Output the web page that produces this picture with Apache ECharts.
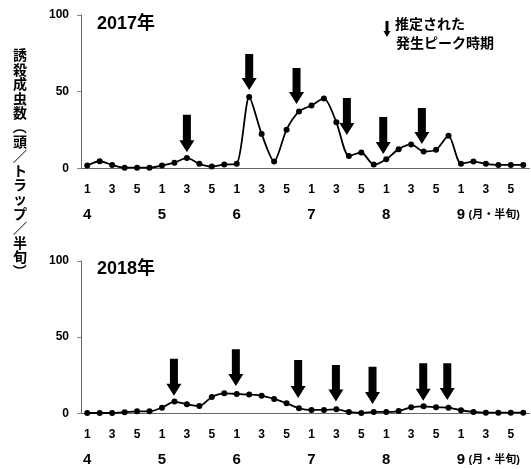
<!DOCTYPE html>
<html><head><meta charset="utf-8">
<script src="https://cdn.jsdelivr.net/npm/echarts@6/dist/echarts.min.js"></script>
<style>html,body{margin:0;padding:0;background:#fff}#c{width:531px;height:469px}</style>
</head><body><div id="c"></div>
<script>
const months = ['4','5','6','7','8','9'];
const halves = ['1','2','3','4','5','6'];
const yTicks = [0, 50, 100];
const data2017 = [1.8,4.6,2.2,0.4,0.4,0.4, 1.8,3.7,6.8,2.9,1.1,2.4, 2.9,46.5,22.4,4.4,25.2,37.1, 41,45.6,30,8.1,10.3,2.4, 5.9,12.5,15.6,11,12.1,21.3, 2.9,4.4,2.9,2.2,2.2,2.2];
const data2018 = [0.2,0.2,0.2,0.7,1.3,1.3, 3.7,7.7,5.9,4.8,10.7,13.1, 12.7,12.3,11.6,9.4,6.6,3.3, 2.2,2.2,2.6,0.9,0.2,0.9, 0.9,1.5,3.9,4.6,3.9,3.7, 2.0,0.9,0.4,0.4,0.4,0.4];
// estimated peak arrows: [category index (fractional), top value, tip value]
const arrows2017 = [[8,35,10.5],[13,74.6,51.1],[16.8,65.4,41.9],[20.84,45.9,21.7],[23.76,33.5,9.3],[26.86,39.3,15.9]];
const arrows2018 = [[6.96,35.8,11.6],[11.93,42.1,17.9],[16.93,35.0,10.0],[19.96,31.7,7.7],[22.9,30.6,6.1],[26.97,32.8,8.3],[28.9,32.8,8.7]];
const titles = ['2017年','2018年'];
const yTitle = '誘殺成虫数（頭／トラップ／半旬）';
const legendText = ['推定された','発生ピーク時期'];
const monthSuffix = '(月・半旬)';

const cats = [];
months.forEach(m => halves.forEach(h => cats.push(m + '-' + h)));

const FONT = 'Liberation Sans, Noto Sans CJK JP, sans-serif';
const JP = 'Noto Sans CJK JP, sans-serif';
const grids = [
  {left: 81, right: 1.5, top: 15, height: 153.3},
  {left: 81, right: 1.5, top: 261, height: 152.3}
];

const xAxes = [], yAxes = [], series = [];
[0,1].forEach(g => {
  xAxes.push({
    type: 'category', gridIndex: g, data: cats, boundaryGap: true,
    axisLine: {lineStyle: {color: '#666', width: 1}},
    axisTick: {interval: 0, length: 5, lineStyle: {color: '#888'}},
    axisLabel: {interval: 0, margin: 15, fontSize: 12, fontWeight: 'bold', color: '#000', fontFamily: FONT,
      formatter: v => { const h = v.split('-')[1]; return (+h % 2 === 1) ? h : ''; }}
  });
  xAxes.push({
    type: 'category', gridIndex: g, data: cats, boundaryGap: true, position: 'bottom',
    axisLine: {show: false}, axisTick: {show: false},
    axisLabel: {interval: 0, margin: 39, color: '#000',
      formatter: v => { const [m, h] = v.split('-'); if (h !== '1') return '';
        return m === months[months.length-1] ? '{sp|}{m|' + m + '}{s|' + monthSuffix + '}' : '{m|' + m + '}'; },
      rich: {
        m: {fontSize: 15, fontWeight: 'bold', fontFamily: FONT, color: '#000'},
        s: {fontSize: 11, fontWeight: 'bold', fontFamily: FONT, color: '#000', width: 58},
        sp: {width: 58}
      }}
  });
  yAxes.push({
    type: 'value', gridIndex: g, min: yTicks[0], max: yTicks[yTicks.length-1], interval: 50,
    splitLine: {show: false},
    axisLine: {show: true, lineStyle: {color: '#666'}},
    axisTick: {show: true, length: 4, lineStyle: {color: '#888'}},
    axisLabel: {margin: 12, fontSize: 12, fontWeight: 'bold', color: '#000', fontFamily: FONT}
  });
});

function arrowRender(params, api) {
  const i = api.value(0);
  const base = Math.round(i);
  const band = api.size([1, 0])[0];
  const pTop = api.coord([base, api.value(1)]);
  const pTip = api.coord([base, api.value(2)]);
  const x = pTop[0] + (i - base) * band;
  const yt = pTop[1], yp = pTip[1];
  const hh = 12, sw = 4, hw = 7.5;
  return {type: 'polygon', shape: {points: [
    [x - sw, yt], [x + sw, yt], [x + sw, yp - hh], [x + hw, yp - hh], [x, yp],
    [x - hw, yp - hh], [x - sw, yp - hh]]}, style: {fill: '#000'}};
}

[[data2017, arrows2017], [data2018, arrows2018]].forEach(([d, a], g) => {
  series.push({type: 'line', xAxisIndex: g*2, yAxisIndex: g, data: d, smooth: 0.25,
    symbol: 'circle', symbolSize: 6, itemStyle: {color: '#000'},
    lineStyle: {color: '#000', width: 1.8}, silent: true});
  series.push({type: 'custom', xAxisIndex: g*2, yAxisIndex: g, data: a, renderItem: arrowRender, silent: true});
});

// vertical y-axis title, one glyph per line; brackets turned for vertical writing
const titleChars = yTitle.split('').map((ch, k) => {
  const rot = (ch === '（' || ch === '）') ? -Math.PI / 2 : 0;
  return {type: 'text', x: 20, y: 55 + k * 14.4, rotation: rot,
    style: {text: ch, font: 'bold 14px ' + JP, fill: '#000', align: 'center', verticalAlign: 'middle'}};
});

const chart = echarts.init(document.getElementById('c'), null, {renderer: 'canvas'});
chart.setOption({
  animation: false,
  grid: grids, xAxis: xAxes, yAxis: yAxes, series: series,
  graphic: [
    {type: 'text', left: 97, top: 15, style: {text: titles[0], font: 'bold 18px ' + FONT, fill: '#000'}},
    {type: 'text', left: 97, top: 260, style: {text: titles[1], font: 'bold 18px ' + FONT, fill: '#000'}},
    {type: 'group', children: titleChars},
    {type: 'polygon', shape: {points: [[385.5,21],[388.5,21],[388.5,31],[390.5,31],[387,37],[383.5,31],[385.5,31]]}, style: {fill: '#000'}},
    {type: 'text', left: 395, top: 17, style: {text: legendText[0], font: 'bold 14px ' + JP, fill: '#000'}},
    {type: 'text', left: 396, top: 36, style: {text: legendText[1], font: 'bold 14px ' + JP, fill: '#000'}}
  ]
});
</script></body></html>
